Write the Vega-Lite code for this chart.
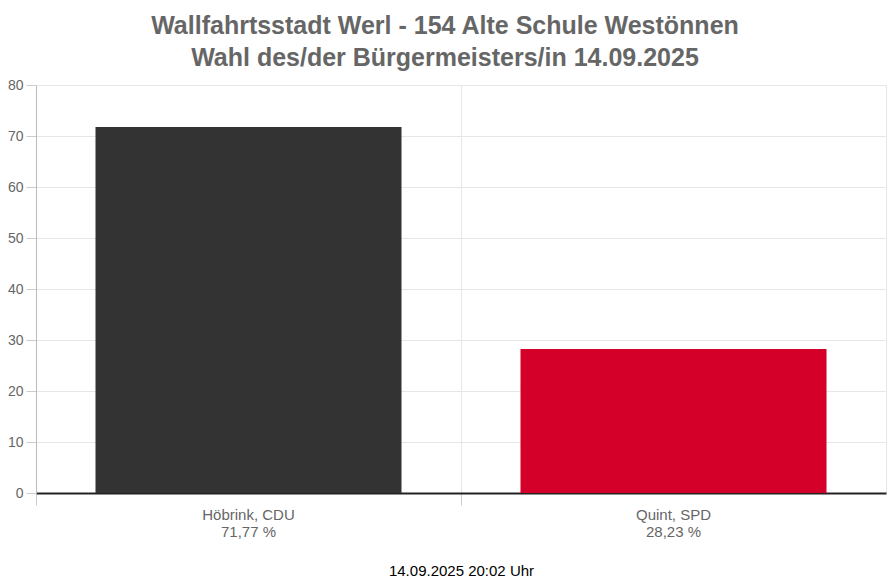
{
  "$schema": "https://vega.github.io/schema/vega-lite/v6.json",
  "width": 850,
  "height": 408,
  "autosize": {"type": "none"},
  "padding": {"left": 36, "top": 85, "right": 4, "bottom": 92},
  "background": "white",
  "config": {
    "font": "Liberation Sans",
    "view": {"stroke": "#e6e6e6", "strokeWidth": 1}
  },
  "title": {
    "text": ["Wallfahrtsstadt Werl - 154 Alte Schule Westönnen", "Wahl des/der Bürgermeisters/in 14.09.2025"],
    "fontSize": 25,
    "fontWeight": "bold",
    "color": "#666666",
    "anchor": "middle",
    "frame": "group",
    "dx": -16,
    "lineHeight": 32,
    "offset": 7
  },
  "data": {
    "values": [
      {"kandidat": "Höbrink, CDU", "label": "Höbrink, CDU|71,77 %", "prozent": 71.77},
      {"kandidat": "Quint, SPD", "label": "Quint, SPD|28,23 %", "prozent": 28.23}
    ]
  },
  "mark": {"type": "bar"},
  "encoding": {
    "x": {
      "field": "label",
      "type": "nominal",
      "sort": null,
      "scale": {"paddingInner": 0.28, "paddingOuter": 0.14},
      "axis": {
        "title": "14.09.2025 20:02 Uhr",
        "titleColor": "#000000",
        "titleFontSize": 15,
        "titleFontWeight": "normal",
        "titlePadding": 24,
        "labelAngle": 0,
        "labelExpr": "split(datum.label, '|')",
        "labelColor": "#666666",
        "labelFontSize": 15,
        "labelLineHeight": 17,
        "labelPadding": 2,
        "bandPosition": -0.1944,
        "grid": true,
        "gridColor": "#e6e6e6",
        "ticks": true,
        "tickSize": 12,
        "tickColor": "#cccccc",
        "domainColor": "#222222",
        "domainWidth": 2
      }
    },
    "y": {
      "field": "prozent",
      "type": "quantitative",
      "scale": {"domain": [0, 80], "nice": false},
      "axis": {
        "title": null,
        "values": [0, 10, 20, 30, 40, 50, 60, 70, 80],
        "labelColor": "#666666",
        "labelFontSize": 14,
        "labelPadding": 3,
        "tickSize": 10,
        "tickColor": "#cccccc",
        "domainColor": "#bbbbbb",
        "gridColor": "#e6e6e6"
      }
    },
    "color": {
      "field": "kandidat",
      "type": "nominal",
      "scale": {"domain": ["Höbrink, CDU", "Quint, SPD"], "range": ["#333333", "#d50029"]},
      "legend": null
    }
  }
}
